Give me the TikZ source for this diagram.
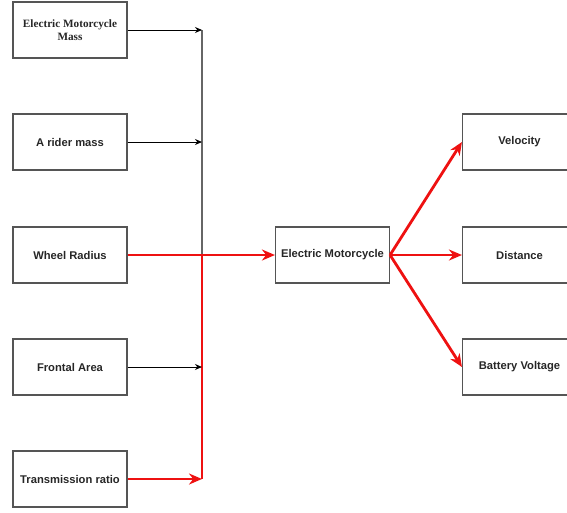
\documentclass[tikz,border=0pt]{standalone}
\usepackage{fontspec}
\setmainfont{Liberation Sans}
\newfontfamily\serifbox{Liberation Serif}
\usetikzlibrary{arrows.meta}
\definecolor{boxgray}{HTML}{555555}
\definecolor{linegray}{HTML}{666666}
\definecolor{redline}{HTML}{EE1111}
\tikzset{
  blk/.style={draw=boxgray, line width=1.1pt, minimum width=114pt, minimum height=56pt, inner sep=2pt, align=center, font=\fontsize{11.2}{13}\selectfont\bfseries, text=black!85},
  thinarrow/.style={draw=black, line width=1pt, -{Stealth[length=7pt,width=6pt]}},
  redarrow/.style={draw=redline, line width=2.8pt, -{Stealth[length=13pt,width=11pt]}},
  redline/.style={draw=redline, line width=2.8pt},
}
\begin{document}
\begin{tikzpicture}[x=1pt,y=-1pt]
\useasboundingbox (0,0) rectangle (567,512);
\node[blk, font=\fontsize{11.2}{12.5}\selectfont\serifbox\bfseries] (m) at (70,30) {Electric Motorcycle\\Mass};
\node[blk] (r) at (70,142) {A rider mass};
\node[blk] (w) at (70,255) {Wheel Radius};
\node[blk] (f) at (70,367) {Frontal Area};
\node[blk] (t) at (70,479) {Transmission ratio};
\node[blk] (e) at (332.5,255) {Electric Motorcycle};
\begin{scope}
\clip (0,0) rectangle (567,512);
\node[blk] (v) at (519.5,142) {Velocity};
\node[blk] (d) at (519.5,255) {Distance};
\node[blk] (b) at (519.5,367) {Battery Voltage};
\end{scope}
\coordinate (j1) at (202,30);
\coordinate (j2) at (202,142);
\coordinate (j3) at (202,255);
\coordinate (j4) at (202,367);
\coordinate (j5) at (202,479);
\draw[draw=linegray, line width=1.2pt] (j1) -- (j3);
\draw[redline] (j5) -- (j3);
\draw[thinarrow] (m) -- (j1);
\draw[thinarrow] (r) -- (j2);
\draw[thinarrow] (f) -- (j4);
\draw[redarrow] (t) -- (j5);
\draw[redarrow] (w) -- (e);
\draw[redarrow] (e.east) -- (v.west);
\draw[redarrow] (e.east) -- (d.west);
\draw[redarrow] (e.east) -- (b.west);
\end{tikzpicture}
\end{document}
